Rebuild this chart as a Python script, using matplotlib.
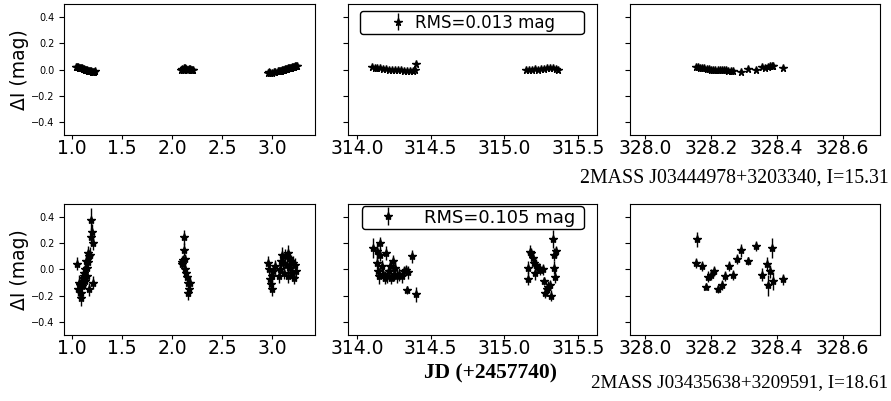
import matplotlib.pyplot as plt

# ---- data: JD offset (+2457740) and delta I (mag) ----
# bright star, 2MASS J03444978+3203340
top_jd_a = [1.04, 1.05, 1.06, 1.07, 1.08, 1.09, 1.10, 1.11, 1.12, 1.13, 1.14, 1.15,
            1.16, 1.17, 1.18, 1.19, 1.20, 1.21, 1.22, 1.23,
            2.09, 2.10, 2.11, 2.12, 2.13, 2.14, 2.15, 2.16, 2.17, 2.18, 2.19, 2.20, 2.21,
            2.96, 2.97, 2.98, 3.00, 3.02, 3.03,
            3.06, 3.07, 3.08, 3.09, 3.10, 3.11, 3.12, 3.13, 3.14, 3.15, 3.16, 3.17,
            3.18, 3.19, 3.20, 3.21, 3.22, 3.23, 3.24, 3.25]
top_mag_a = [0.018, 0.022, 0.020, 0.015, 0.012, 0.008, 0.010, 0.005, 0.002, 0.000, -0.003, -0.005,
             -0.010, -0.008, -0.012, -0.015, -0.020, -0.018, -0.022, -0.015,
             0.000, 0.005, -0.003, 0.008, 0.010, 0.004, 0.000, -0.005, 0.002, 0.006, -0.002, 0.000, -0.004,
             -0.025, -0.022, -0.028, -0.025, -0.020, -0.022,
             -0.015, -0.012, -0.010, -0.008, -0.005, -0.002, 0.000, 0.003, 0.002, 0.006, 0.008, 0.010,
             0.012, 0.015, 0.018, 0.020, 0.022, 0.025, 0.028, 0.030]

top_jd_b = [314.10, 314.12, 314.14, 314.16, 314.18, 314.20, 314.22, 314.24, 314.26, 314.28,
            314.30, 314.32, 314.34, 314.36, 314.38, 314.393, 314.404,
            315.15, 315.17, 315.19, 315.21, 315.23, 315.25, 315.27, 315.29, 315.31, 315.33,
            315.35, 315.368]
top_mag_b = [0.018, 0.015, 0.010, 0.008, 0.005, 0.002, 0.000, -0.002, 0.000, -0.003,
             -0.005, -0.008, -0.010, -0.013, -0.008, 0.000, 0.045,
             0.000, 0.000, -0.002, 0.002, 0.000, 0.004, 0.006, 0.010, 0.012, 0.008,
             0.003, 0.000]

top_jd_c = [328.154, 328.160, 328.167, 328.173, 328.180, 328.187, 328.193, 328.200, 328.207,
            328.213, 328.220, 328.227, 328.233, 328.240, 328.247, 328.253, 328.260, 328.267,
            328.290, 328.313, 328.336, 328.354, 328.364, 328.374, 328.380, 328.385, 328.390, 328.419]
top_mag_c = [0.020, 0.020, 0.015, 0.012, 0.008, 0.005, 0.003, 0.000, 0.000,
             -0.003, -0.005, -0.003, 0.000, -0.002, -0.005, -0.008, -0.010, -0.013,
             -0.020, 0.005, -0.005, 0.020, 0.015, 0.020, 0.025, 0.030, 0.025, 0.015]

# faint star, 2MASS J03435638+3209591
bot_jd_a = [1.047, 1.063, 1.073, 1.080, 1.087, 1.093, 1.097, 1.103, 1.107, 1.113, 1.120, 1.125,
            1.130, 1.135, 1.140, 1.147, 1.153, 1.158, 1.163, 1.167, 1.172, 1.180, 1.187, 1.193,
            1.197, 1.207, 1.213,
            2.097, 2.105, 2.110, 2.117, 2.123, 2.128, 2.135, 2.142, 2.150, 2.158, 2.165, 2.172, 2.180,
            2.963, 2.970, 2.980, 2.990, 2.997, 3.003, 3.013, 3.030, 3.070, 3.080, 3.090, 3.097,
            3.113, 3.123, 3.130, 3.147, 3.157, 3.163, 3.170, 3.180, 3.190, 3.197, 3.213, 3.223,
            3.230, 3.237]
bot_mag_a = [0.043, -0.150, -0.100, -0.120, -0.220, -0.180, -0.126, -0.100, -0.063, -0.090, -0.025, -0.050,
             -0.088, 0.000, 0.063, 0.013, -0.050, 0.060, 0.126, -0.150, 0.100, 0.114, 0.250, 0.380,
             0.290, -0.100, 0.200,
             0.060, 0.040, 0.070, 0.245, 0.150, 0.080, 0.000, -0.030, -0.060, -0.100, -0.180, -0.150, -0.100,
             0.050, 0.000, -0.076, -0.110, -0.050, -0.150, -0.013, 0.025, -0.050, 0.000, 0.063, 0.114,
             0.050, -0.025, 0.100, 0.038, 0.126, -0.050, 0.088, 0.013, 0.063, -0.025, 0.050, -0.063,
             0.038, -0.013]
bot_err_a = [0.05, 0.05, 0.06, 0.05, 0.06, 0.05, 0.05, 0.05, 0.05, 0.05, 0.05, 0.05,
             0.05, 0.05, 0.05, 0.05, 0.05, 0.05, 0.05, 0.05, 0.05, 0.06, 0.07, 0.09,
             0.06, 0.05, 0.05,
             0.04, 0.04, 0.04, 0.06, 0.05, 0.04, 0.04, 0.04, 0.04, 0.04, 0.05, 0.05, 0.04,
             0.05, 0.04, 0.05, 0.05, 0.05, 0.05, 0.05, 0.05, 0.05, 0.05, 0.05, 0.06,
             0.05, 0.05, 0.06, 0.05, 0.06, 0.05, 0.05, 0.05, 0.05, 0.05, 0.05, 0.05,
             0.05, 0.05]

bot_jd_b = [314.111, 314.134, 314.140, 314.145, 314.151, 314.156, 314.160, 314.168, 314.179,
            314.190, 314.197, 314.206, 314.219, 314.228, 314.235, 314.242, 314.251, 314.258,
            314.269, 314.287, 314.303, 314.318, 314.332, 314.337, 314.347, 314.377, 314.402,
            315.158, 315.163, 315.177, 315.185, 315.192, 315.204, 315.210, 315.219, 315.233,
            315.242, 315.260, 315.271, 315.278, 315.287, 315.300, 315.309, 315.320, 315.332,
            315.339, 315.341, 315.345, 315.354]
bot_mag_b = [0.164, 0.139, 0.050, -0.013, -0.050, 0.114, 0.200, 0.025, -0.038,
             -0.063, 0.126, -0.050, -0.013, 0.025, -0.063, 0.063, -0.038, 0.013,
             -0.050, -0.038, -0.050, -0.013, -0.005, -0.157, -0.020, 0.100, -0.190,
             -0.071, 0.013, 0.134, 0.126, 0.088, 0.050, -0.030, 0.038, 0.013,
             -0.005, 0.000, -0.088, -0.177, -0.150, -0.131, -0.120, -0.200, 0.232,
             0.114, 0.013, -0.055, 0.139]
bot_err_b = [0.08, 0.06, 0.05, 0.06, 0.06, 0.05, 0.05, 0.05, 0.05,
             0.05, 0.05, 0.05, 0.05, 0.05, 0.05, 0.05, 0.05, 0.05,
             0.05, 0.05, 0.05, 0.04, 0.04, 0.03, 0.05, 0.05, 0.06,
             0.05, 0.05, 0.05, 0.04, 0.04, 0.04, 0.05, 0.04, 0.04,
             0.04, 0.04, 0.03, 0.04, 0.04, 0.04, 0.04, 0.04, 0.07,
             0.05, 0.05, 0.05, 0.04]

bot_jd_c = [328.154, 328.159, 328.172, 328.185, 328.190, 328.200, 328.210, 328.220, 328.233,
            328.244, 328.255, 328.268, 328.278, 328.290, 328.313, 328.336, 328.354, 328.369,
            328.374, 328.380, 328.385, 328.390, 328.419]
bot_mag_c = [0.050, 0.230, 0.025, -0.130, -0.055, -0.040, -0.013, -0.146, -0.120,
             -0.050, 0.025, -0.043, 0.080, 0.146, 0.063, 0.180, -0.040, 0.045,
             -0.120, -0.013, 0.164, -0.088, -0.076]
bot_err_c = [0.04, 0.06, 0.04, 0.03, 0.04, 0.04, 0.04, 0.03, 0.04,
             0.04, 0.04, 0.04, 0.04, 0.05, 0.03, 0.04, 0.05, 0.05,
             0.08, 0.05, 0.08, 0.07, 0.04]

top_rms = 'RMS=0.013 mag'
bot_rms = 'RMS=0.105 mag'
top_name = '2MASS J03444978+3203340, I=15.31'
bot_name = '2MASS J03435638+3209591, I=18.61'

x_limits = [(0.92, 3.43), (313.94, 315.63), (327.954, 328.714)]
x_ticks = [[1.0, 1.5, 2.0, 2.5, 3.0],
           [314.0, 314.5, 315.0, 315.5],
           [328.0, 328.2, 328.4, 328.6]]
y_ticks = [-0.4, -0.2, 0.0, 0.2, 0.4]

fig = plt.figure(figsize=(8.91, 4.01), dpi=100)

lefts = [0.0718, 0.3906, 0.7071]
widths = [0.2817, 0.2795, 0.2806]
rows = [(0.6633, 'top'), (0.1646, 'bot')]

for bottom, row in rows:
    if row == 'top':
        data = [(top_jd_a, top_mag_a, [0.004] * len(top_jd_a)),
                (top_jd_b, top_mag_b, [0.004] * len(top_jd_b)),
                (top_jd_c, top_mag_c, [0.004] * len(top_jd_c))]
        ms = 5.5
    else:
        data = [(bot_jd_a, bot_mag_a, bot_err_a),
                (bot_jd_b, bot_mag_b, bot_err_b),
                (bot_jd_c, bot_mag_c, bot_err_c)]
        ms = 6
    for i in range(3):
        ax = fig.add_axes([lefts[i], bottom, widths[i], 0.3267])
        jd, mag, err = data[i]
        ax.errorbar(jd, mag, yerr=err, fmt='*', color='k', ecolor='k',
                    markersize=ms, elinewidth=1, capsize=0,
                    label=(top_rms + '     ' if row == 'top' else bot_rms + ' '))
        ax.set_xlim(*x_limits[i])
        ax.set_ylim(-0.5, 0.5)
        ax.set_xticks(x_ticks[i])
        ax.set_yticks(y_ticks)
        ax.tick_params(axis='x', labelsize=13.5, length=3, pad=0)
        ax.tick_params(axis='y', labelsize=7)
        if i == 0:
            ax.set_ylabel('ΔI (mag)', fontsize=13.5)
            ax.yaxis.set_label_coords(-0.14, 0.5)
        else:
            ax.set_yticklabels([])
        if i == 1:
            if row == 'top':
                ax.legend(loc='upper center', bbox_to_anchor=(0.496, 1.0), fontsize=12,
                          handlelength=4.26, handletextpad=-1.1, borderpad=0.15,
                          borderaxespad=0.42, fancybox=True, edgecolor='k', framealpha=1)
            else:
                ax.legend(loc='upper center', bbox_to_anchor=(0.5, 1.0), fontsize=13,
                          handlelength=2.6, handletextpad=0.7, borderpad=0.15,
                          borderaxespad=0.11, fancybox=True, edgecolor='k', framealpha=1)

fig.text(0.997, 1 - 178 / 401, top_name, ha='right', va='center',
         family='Liberation Serif', fontsize=14.3)
fig.text(0.997, 1 - 383 / 401, bot_name, ha='right', va='center',
         family='Liberation Serif', fontsize=13.8)
fig.text(490 / 891, 1 - 373 / 401, 'JD (+2457740)', ha='center', va='center',
         family='Liberation Serif', fontweight='bold', fontsize=15.5)

fig.savefig('out.png', dpi=100)
